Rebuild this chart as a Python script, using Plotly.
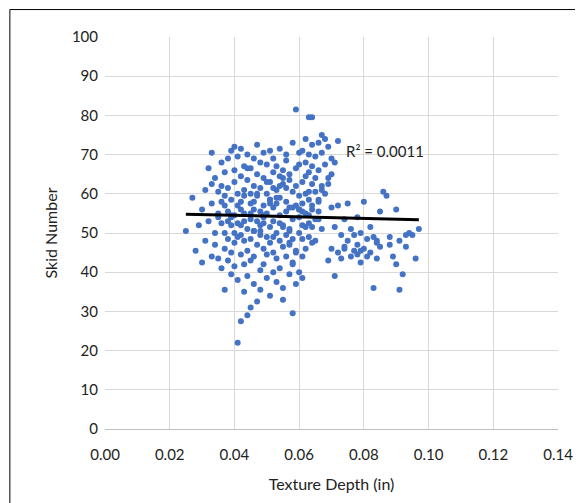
import plotly.graph_objects as go

# texture depth (in) and skid number
texture_depth = [
    0.025, 0.027, 0.028, 0.029, 0.030, 0.030, 0.031, 0.031, 0.032, 0.032, 0.033, 0.033, 0.033, 0.034, 0.034,
    0.034, 0.035, 0.035, 0.035, 0.036, 0.036, 0.036, 0.036, 0.037, 0.037, 0.037, 0.037, 0.037, 0.038, 0.038,
    0.038, 0.038, 0.038, 0.039, 0.039, 0.039, 0.039, 0.039, 0.040, 0.040, 0.040, 0.040, 0.040, 0.040, 0.041,
    0.041, 0.041, 0.041, 0.041, 0.041, 0.042, 0.042, 0.042, 0.042, 0.042, 0.042, 0.043, 0.043, 0.043, 0.043,
    0.043, 0.043, 0.044, 0.044, 0.044, 0.044, 0.044, 0.044, 0.045, 0.045, 0.045, 0.045, 0.045, 0.045, 0.046,
    0.046, 0.046, 0.046, 0.046, 0.046, 0.047, 0.047, 0.047, 0.047, 0.047, 0.047, 0.048, 0.048, 0.048, 0.048,
    0.048, 0.048, 0.049, 0.049, 0.049, 0.049, 0.049, 0.049, 0.050, 0.050, 0.050, 0.050, 0.050, 0.050, 0.051,
    0.051, 0.051, 0.051, 0.051, 0.051, 0.052, 0.052, 0.052, 0.052, 0.052, 0.052, 0.053, 0.053, 0.053, 0.053,
    0.053, 0.053, 0.054, 0.054, 0.054, 0.054, 0.054, 0.054, 0.055, 0.055, 0.055, 0.055, 0.055, 0.055, 0.056,
    0.056, 0.056, 0.056, 0.056, 0.056, 0.057, 0.057, 0.057, 0.057, 0.057, 0.057, 0.058, 0.058, 0.058, 0.058,
    0.058, 0.058, 0.059, 0.059, 0.059, 0.059, 0.059, 0.059, 0.060, 0.060, 0.060, 0.060, 0.060, 0.060, 0.061,
    0.061, 0.061, 0.061, 0.061, 0.061, 0.062, 0.062, 0.062, 0.062, 0.062, 0.062, 0.063, 0.063, 0.063, 0.063,
    0.063, 0.063, 0.064, 0.064, 0.064, 0.064, 0.064, 0.064, 0.065, 0.065, 0.065, 0.065, 0.065, 0.066, 0.066,
    0.066, 0.066, 0.067, 0.067, 0.067, 0.067, 0.068, 0.068, 0.068, 0.069, 0.069, 0.069, 0.070, 0.070, 0.070,
    0.071, 0.071, 0.071, 0.072, 0.072, 0.072, 0.073, 0.073, 0.074, 0.074, 0.075, 0.075, 0.076, 0.076, 0.077,
    0.077, 0.078, 0.078, 0.079, 0.079, 0.080, 0.080, 0.081, 0.081, 0.082, 0.082, 0.083, 0.083, 0.084, 0.084,
    0.085, 0.085, 0.086, 0.087, 0.088, 0.089, 0.090, 0.090, 0.091, 0.091, 0.092, 0.093, 0.094, 0.095, 0.096,
    0.097, 0.033, 0.036, 0.039, 0.042, 0.045, 0.048, 0.051, 0.054, 0.057, 0.060, 0.063, 0.066, 0.044, 0.047,
    0.050, 0.053, 0.056, 0.059, 0.062, 0.041, 0.046, 0.052, 0.058, 0.064, 0.038, 0.043, 0.049, 0.055, 0.061,
    0.035, 0.037, 0.040, 0.043, 0.046, 0.049, 0.052, 0.055, 0.058, 0.061, 0.064, 0.067, 0.070, 0.039, 0.042,
    0.045, 0.048, 0.051, 0.054, 0.057, 0.060, 0.063, 0.066, 0.069, 0.074, 0.079, 0.084, 0.088, 0.093, 0.078,
]
skid_number = [
    50.5, 59.0, 45.5, 52.0, 42.5, 56.0, 48.0, 61.0, 53.0, 66.5, 70.5, 44.0, 57.5, 64.0, 50.0,
    47.0, 60.5, 54.0, 43.5, 68.0, 52.5, 41.0, 62.0, 57.0, 46.0, 35.5, 65.5, 50.0, 69.0, 43.0,
    55.5, 61.5, 48.5, 71.0, 39.5, 58.5, 45.0, 52.0, 72.0, 47.5, 63.0, 54.5, 41.5, 66.0, 22.0,
    57.0, 69.5, 49.0, 60.0, 38.0, 44.5, 64.5, 52.0, 71.5, 27.5, 58.0, 35.0, 48.0, 61.0, 67.0,
    42.0, 55.0, 29.0, 51.0, 63.5, 45.5, 70.0, 39.0, 57.5, 31.0, 66.5, 48.5, 53.5, 43.0, 62.0,
    37.0, 69.0, 50.5, 56.0, 44.0, 72.5, 32.5, 59.5, 47.0, 65.0, 53.0, 40.5, 68.0, 55.5, 49.5,
    61.5, 35.5, 46.0, 64.0, 57.0, 70.5, 42.0, 52.5, 67.5, 38.5, 60.0, 49.0, 55.0, 44.5, 71.0,
    58.5, 34.0, 63.0, 51.5, 47.5, 65.5, 40.0, 56.5, 69.0, 53.0, 45.0, 61.0, 37.5, 67.0, 50.0,
    57.5, 43.5, 64.5, 48.0, 54.5, 71.5, 41.0, 59.0, 33.0, 66.0, 52.0, 46.5, 62.5, 36.0, 55.5,
    70.0, 49.5, 44.0, 58.0, 68.5, 51.0, 39.5, 63.5, 47.0, 56.5, 65.0, 42.5, 60.5, 29.5, 53.5,
    73.0, 48.5, 81.5, 57.0, 37.0, 66.5, 45.5, 62.0, 50.0, 70.5, 40.0, 59.5, 54.0, 67.5, 44.0,
    63.0, 48.5, 57.5, 71.0, 38.5, 51.5, 68.0, 60.0, 55.0, 74.0, 46.0, 79.5, 65.5, 52.5, 58.5,
    49.0, 70.0, 62.5, 47.5, 72.5, 56.0, 67.0, 79.5, 60.5, 53.5, 69.5, 64.0, 48.0, 58.0, 73.0,
    66.0, 55.5, 75.0, 62.0, 70.5, 51.0, 67.5, 60.0, 74.0, 43.0, 64.0, 72.0, 56.5, 69.0, 46.0,
    68.0, 39.0, 51.5, 73.5, 45.0, 57.0, 49.5, 43.5, 53.5, 46.5, 57.5, 48.0, 44.0, 51.0, 45.5,
    49.5, 47.0, 54.0, 42.5, 50.0, 46.0, 58.0, 48.5, 44.0, 51.5, 45.0, 49.0, 36.0, 47.5, 43.5,
    55.5, 46.5, 60.5, 59.5, 49.0, 44.0, 56.0, 42.0, 35.5, 48.0, 39.5, 46.5, 50.0, 49.5, 43.5,
    51.0, 62.5, 58.0, 54.5, 49.5, 55.0, 50.5, 57.5, 52.5, 47.5, 56.0, 60.5, 53.5, 66.5, 60.0,
    63.0, 59.0, 61.5, 45.0, 64.5, 52.5, 50.5, 49.0, 42.0, 51.5, 53.0, 59.5, 54.5, 64.0, 55.5,
    55.0, 59.5, 50.0, 53.0, 58.0, 54.0, 61.5, 51.5, 56.5, 52.0, 57.0, 61.0, 65.0, 54.0, 56.0,
    60.0, 52.0, 58.5, 62.0, 50.5, 56.0, 54.5, 58.5, 62.5, 46.0, 45.5, 48.0, 47.0, 49.5, 44.5,
]

# linear trendline end points (R² = 0.0011)
trend_x = [0.025, 0.097]
trend_y = [54.8, 53.4]

font = "Lato, Liberation Sans, sans-serif"

fig = go.Figure()
fig.add_trace(go.Scatter(
    x=texture_depth, y=skid_number, mode="markers",
    marker=dict(color="#4472C4", size=6), showlegend=False,
))
fig.add_trace(go.Scatter(
    x=trend_x, y=trend_y, mode="lines",
    line=dict(color="black", width=3), showlegend=False,
))
fig.add_annotation(x=0.074, y=71, text="R² = 0.0011", showarrow=False,
                   xanchor="left", font=dict(size=15, color="#222"))

fig.update_layout(
    width=583, height=503,
    margin=dict(l=97, r=33, t=29, b=82),
    paper_bgcolor="white", plot_bgcolor="white",
    font=dict(family=font, size=15, color="#222"),
    xaxis=dict(range=[0, 0.14], dtick=0.02, tickformat=".2f",
               showgrid=True, gridcolor="#d9d9d9", zeroline=False,
               showline=True, linecolor="#bfbfbf", ticks="", ticklabelstandoff=12,
               title=dict(text="Texture Depth (in)", font=dict(size=16), standoff=16)),
    yaxis=dict(range=[0, 100], dtick=10, showgrid=True, gridcolor="#d9d9d9",
               zeroline=False, ticks="", ticklabelstandoff=6,
               title=dict(text="Skid Number", font=dict(size=16), standoff=10)),
    shapes=[dict(type="rect", xref="paper", yref="paper", x0=-0.21, x1=1.062,
                 y0=-0.198, y1=1.07, line=dict(color="black", width=1))],
)

fig.write_html("out.html")
